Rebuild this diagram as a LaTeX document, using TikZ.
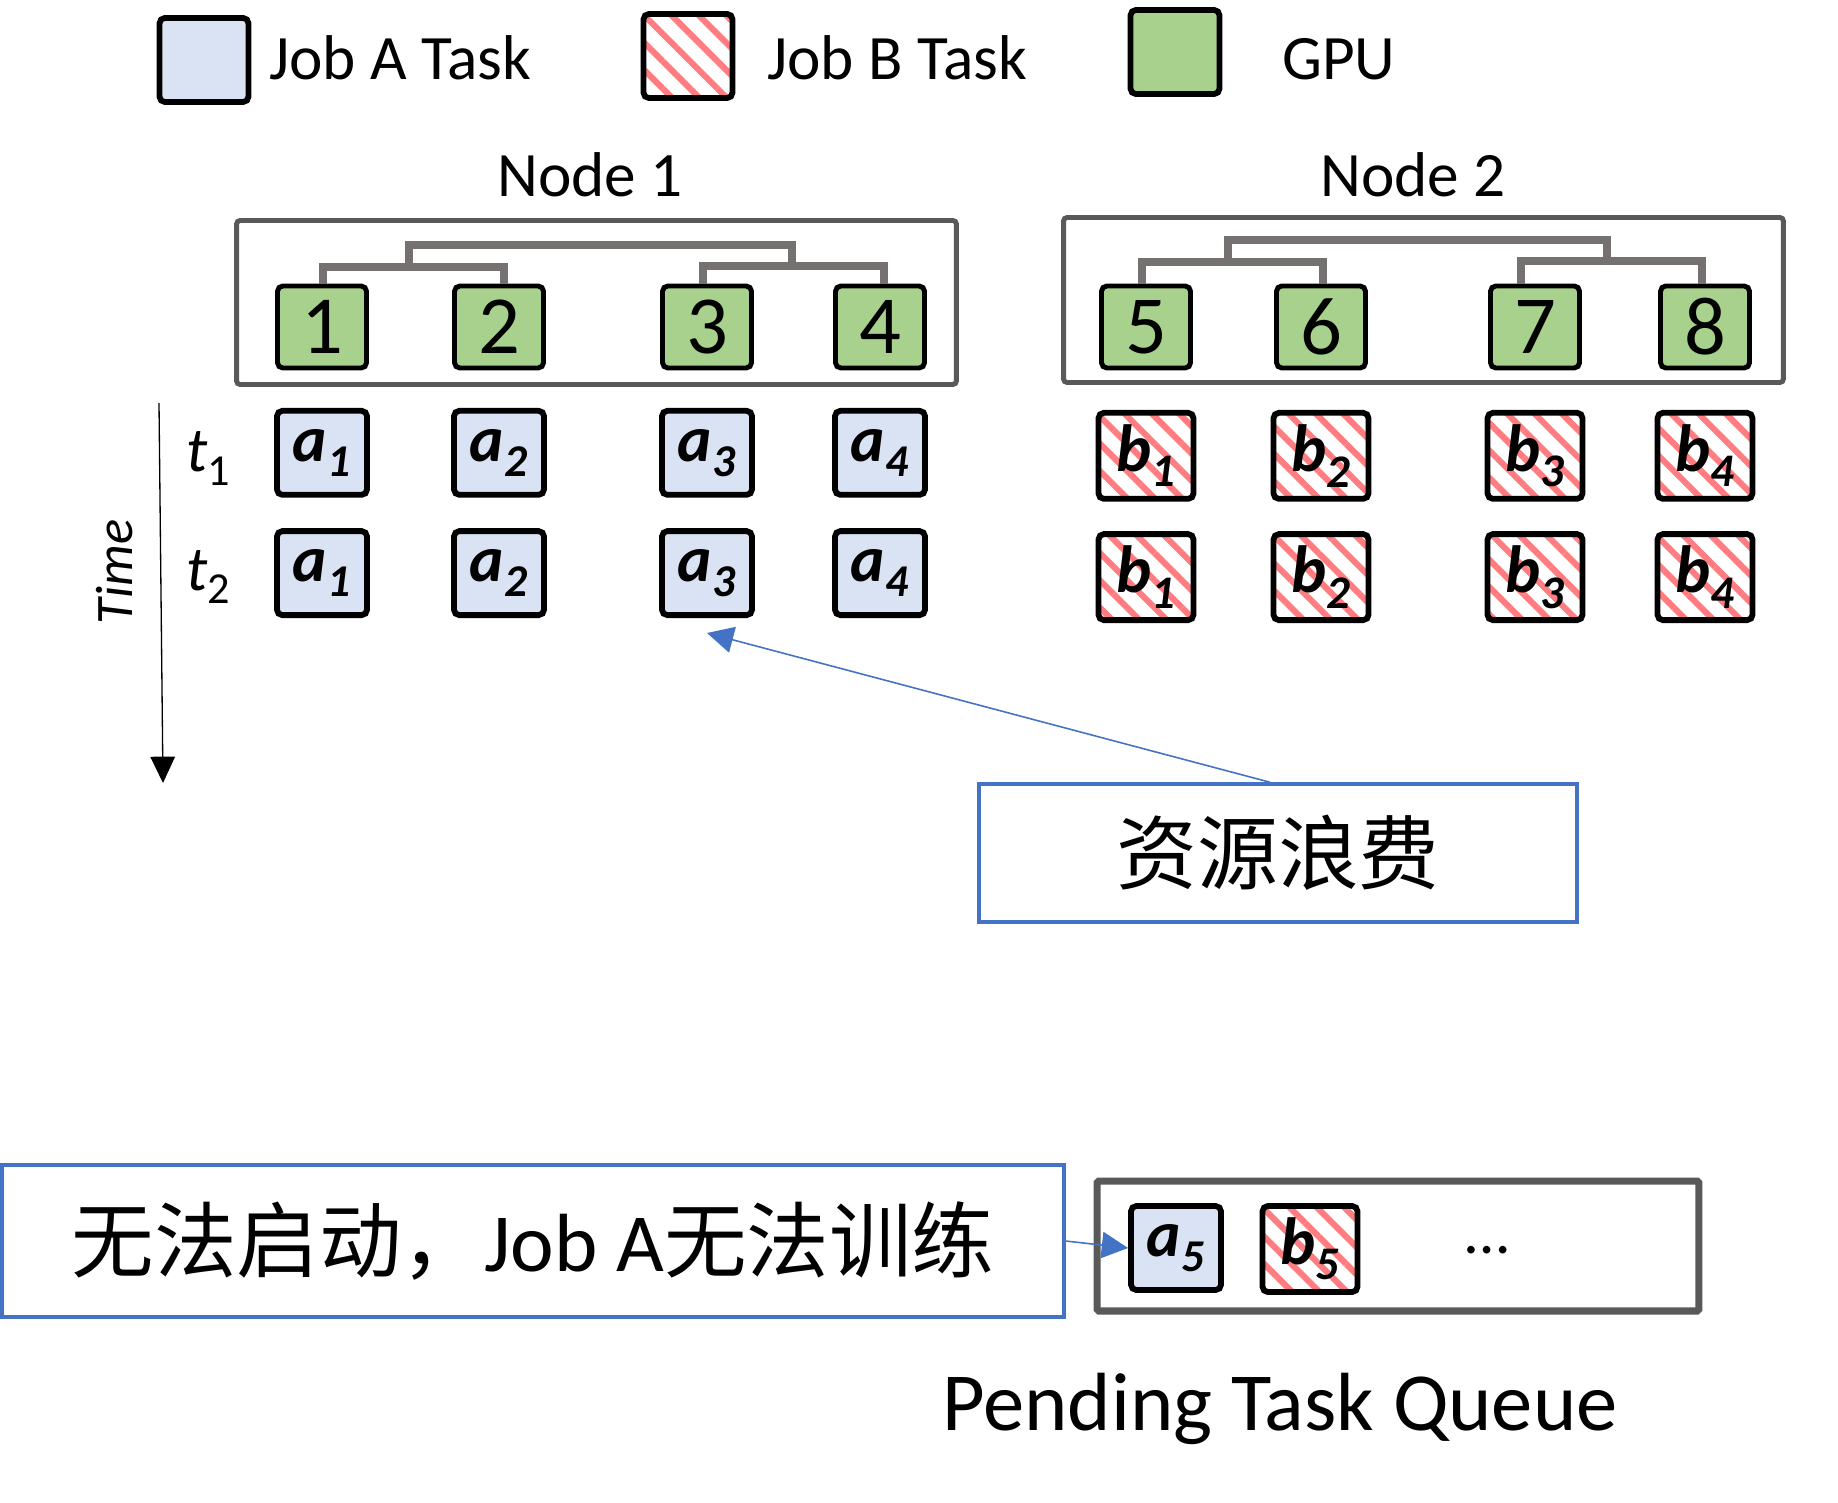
\documentclass[tikz,border=0pt]{standalone}
\usepackage{fontspec}
\setmainfont{Carlito}
\newfontfamily\cjk{Noto Sans CJK SC}
\usepackage{tikz}
\usetikzlibrary{positioning,arrows.meta,patterns.meta}
\definecolor{jobablue}{HTML}{DAE3F3}
\definecolor{gpugreen}{HTML}{A9D18E}
\definecolor{stripered}{HTML}{FF7C80}
\definecolor{busgray}{HTML}{767171}
\definecolor{boxgray}{HTML}{595959}
\definecolor{noteblue}{HTML}{4472C4}

\begin{document}
\begin{tikzpicture}[x=0.02cm, y=-0.02cm, every node/.style={inner sep=0pt},
  lgd/.style={draw, line width=3.3pt, rounded corners=3pt, minimum width=1.78cm, minimum height=1.68cm},
  lgdtext/.style={anchor=base west, font=\fontsize{36}{40}\selectfont},
  stripes/.style={pattern={Lines[angle=-45, distance=11pt, line width=3.5pt]}, pattern color=stripered},
  container/.style={draw=boxgray, line width=2.8pt, rounded corners=2pt},
  bus/.style={draw=busgray, line width=5pt},
  gpu/.style={draw, fill=gpugreen, line width=2.8pt, rounded corners=3pt, minimum width=1.78cm, minimum height=1.64cm, font=\fontsize{47}{50}\selectfont},
  taska/.style={draw, fill=jobablue, line width=3.3pt, rounded corners=3pt, minimum width=1.8cm, minimum height=1.68cm, font=\fontsize{37}{40}\selectfont\bfseries\itshape},
  taskb/.style={draw, stripes, line width=3.3pt, rounded corners=3pt, minimum width=1.9cm, minimum height=1.72cm, font=\fontsize{38}{40}\selectfont\bfseries\itshape},
  tlab/.style={anchor=base, font=\fontsize{36}{40}\selectfont},
  note/.style={draw=noteblue, line width=2pt, font=\fontsize{46}{50}\selectfont\cjk},
  noteline/.style={draw=noteblue, line width=0.9pt, -{Triangle[length=15pt, width=15pt]}},
  timeline/.style={line width=0.75pt, -{Triangle[length=15pt, width=14pt]}}]

  \useasboundingbox (0,0) rectangle (1838,1503);

  % legend
  \node[lgd, fill=jobablue] (lgda) at (204,60) {};
  \node[lgdtext] (lgdatext) at (269,80) {Job A Task};
  \node[lgd, stripes] (lgdb) at (688,56) {};
  \node[lgdtext] (lgdbtext) at (767,80) {Job B Task};
  \node[lgd, fill=gpugreen] (lgdg) at (1175,52) {};
  \node[lgdtext] (lgdgtext) at (1282,80) {GPU};

  % machines
  \node[tlab] (n1lbl) at (590,197) {Node 1};
  \node[tlab] (n2lbl) at (1413,197) {Node 2};
  \node[container, minimum width=14.4cm, minimum height=3.28cm] (node1) at (596.5,302.5) {};
  \node[container, minimum width=14.4cm, minimum height=3.3cm] (node2) at (1423.5,300) {};

  \node[gpu] (g1) at (322,327) {1};
  \node[gpu] (g2) at (499,327) {2};
  \node[gpu] (g3) at (707,327) {3};
  \node[gpu] (g4) at (880,327) {4};
  \node[gpu] (g5) at (1146,327) {5};
  \node[gpu] (g6) at (1321,327) {6};
  \node[gpu] (g7) at (1535,327) {7};
  \node[gpu] (g8) at (1705,327) {8};

  % links between gpus
  \draw[bus] (g1.north -| 323,0) -- (323,267) -- (504,267) -- (g2.north -| 504,0);
  \draw[bus] (g3.north -| 703,0) -- (703,266) -- (884,266) -- (g4.north -| 884,0);
  \draw[bus] (409,267) -- (409,245) -- (792,245) -- (792,266);
  \draw[bus] (g5.north -| 1142,0) -- (1142,262) -- (1323,262) -- (g6.north -| 1323,0);
  \draw[bus] (g7.north -| 1521,0) -- (1521,261) -- (1702,261) -- (g8.north -| 1702,0);
  \draw[bus] (1228,262) -- (1228,240) -- (1607,240) -- (1607,261);

  % time slots
  \draw[timeline] (159,403) -- (163,783);
  \node[rotate=90, font=\fontsize{30}{32}\selectfont\itshape] (timelbl) at (115,572) {Time};
  \node[tlab] (t1) at (209,472) {\textit{t}\textsubscript{1}};
  \node[tlab] (t2) at (209,590) {\textit{t}\textsubscript{2}};

  \node[taska, below=0.75cm of g1] (a1t1) {a\textsubscript{1}};
  \node[taska, below=0.75cm of g2] (a2t1) {a\textsubscript{2}};
  \node[taska, below=0.75cm of g3] (a3t1) {a\textsubscript{3}};
  \node[taska, below=0.75cm of g4] (a4t1) {a\textsubscript{4}};
  \node[taska, below=0.61cm of a1t1] (a1t2) {a\textsubscript{1}};
  \node[taska, below=0.61cm of a2t1] (a2t2) {a\textsubscript{2}};
  \node[taska, below=0.61cm of a3t1] (a3t2) {a\textsubscript{3}};
  \node[taska, below=0.61cm of a4t1] (a4t2) {a\textsubscript{4}};

  \node[taskb, below=0.79cm of g5] (b1t1) {b\textsubscript{1}};
  \node[taskb, below=0.79cm of g6] (b2t1) {b\textsubscript{2}};
  \node[taskb, below=0.79cm of g7] (b3t1) {b\textsubscript{3}};
  \node[taskb, below=0.79cm of g8] (b4t1) {b\textsubscript{4}};
  \node[taskb, below=0.59cm of b1t1] (b1t2) {b\textsubscript{1}};
  \node[taskb, below=0.59cm of b2t1] (b2t2) {b\textsubscript{2}};
  \node[taskb, below=0.59cm of b3t1] (b3t2) {b\textsubscript{3}};
  \node[taskb, below=0.59cm of b4t1] (b4t2) {b\textsubscript{4}};

  % notes
  \node[note, minimum width=11.96cm, minimum height=2.76cm] (waste) at (1278,853) {资源浪费};
  \coordinate[below=0.3cm of a3t2] (wastetip);
  \draw[noteline] ([xshift=-0.16cm]waste.north) -- (wastetip);

  \node[note, font=\fontsize{47}{50}\selectfont\cjk, minimum width=21.24cm, minimum height=3.04cm] (fail) at (533,1241) {无法启动，{\normalfont Job A}无法训练};

  % pending queue
  \node[container, line width=4pt, rounded corners=1pt, minimum width=12.04cm, minimum height=2.6cm] (queue) at (1398,1246) {};
  \node[taska] (a5) at (1176,1248) {a\textsubscript{5}};
  \node[taskb] (b5) at (1310,1249) {b\textsubscript{5}};
  \node[tlab] (more) at (1487,1253) {…};
  \node[anchor=base, font=\fontsize{47}{50}\selectfont] (qlbl) at (1280,1430) {Pending Task Queue};
  \draw[noteline] (fail.east) -- (a5.west);
\end{tikzpicture}
\end{document}
